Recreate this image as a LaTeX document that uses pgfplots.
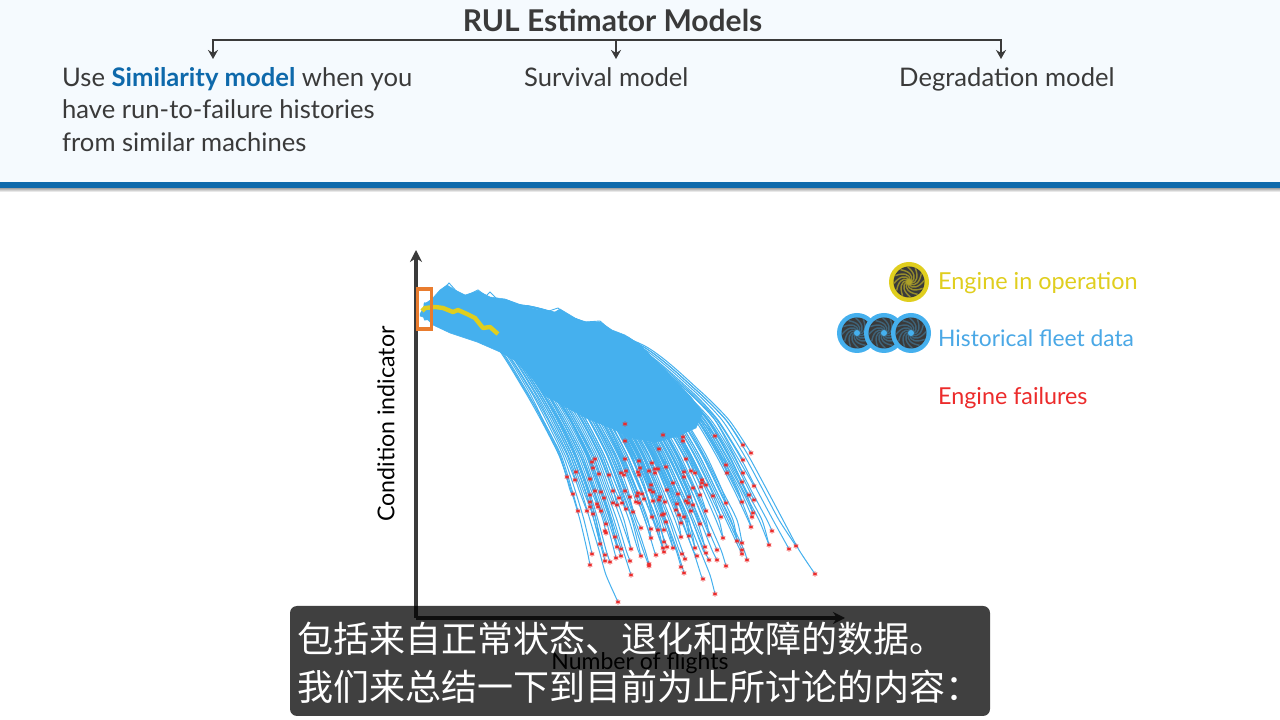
\documentclass[border=0pt]{standalone}
\usepackage{fontspec}
\usepackage{pgfplots}
\pgfplotsset{compat=1.18}
\usetikzlibrary{arrows.meta,calc}
\setmainfont{Lato}
\newfontfamily\cjk{Noto Sans CJK SC}
\definecolor{fleet}{HTML}{45B0EE}
\definecolor{legblue}{HTML}{4AA8E6}
\definecolor{oper}{HTML}{E0CE1E}
\definecolor{fail}{HTML}{EC2B2B}
\definecolor{dk}{HTML}{3A3A3A}
\definecolor{band}{HTML}{F5FAFE}
\definecolor{bar}{HTML}{0E69AB}
\definecolor{orng}{HTML}{E97C2E}
\newcommand\C[1]{\addplot[fleet,line width=1pt,smooth,tension=0.4] coordinates {#1};}
\newcommand\fs[1]{\fontsize{#1}{#1}\selectfont}
\newcommand\turbine[5]{% x,y,ring colour,gap colour,hub colour
  \fill[#3] (#1pt,#2pt) circle (20pt);
  \fill[dk] (#1pt,#2pt) circle (15.5pt);
  \foreach \a in {0,30,...,330}{
    \draw[#4,line width=1.4pt] ($(#1pt,#2pt)+(\a:2.5pt)$) .. controls ($(#1pt,#2pt)+(\a+25:8pt)$) and ($(#1pt,#2pt)+(\a+60:11pt)$) .. ($(#1pt,#2pt)+(\a+95:15pt)$);
  }
  \fill[#5] (#1pt,#2pt) circle (3pt);
}
\begin{document}
\begin{tikzpicture}[x=1pt,y=1pt]
\fill[white] (0,0) rectangle (1280,720);
\fill[band] (0,538) rectangle (1280,720);
\shade[top color=black!45,bottom color=white] (0,528) rectangle (1280,533);
\fill[bar] (0,532) rectangle (1280,538);
% header
\node[anchor=center,text=dk,inner sep=0pt,font=\bfseries\fs{30}] at (612.5,699.5) {RUL Estimator Models};
\draw[dk,line width=2.8pt] (211.6,680) -- (1002.4,680);
\foreach \x in {213,616,1001}{
  \draw[dk,line width=2.4pt,-{Stealth[length=9pt,width=10pt]}] (\x,680) -- (\x,661);
}
\node[anchor=base west,inner sep=0pt,text=dk,font=\fs{25.6}] at (62,633) {Use {\bfseries\color{bar}Similarity model} when you};
\node[anchor=base west,inner sep=0pt,text=dk,font=\fs{25.6}] at (62,601) {have run-to-failure histories};
\node[anchor=base west,inner sep=0pt,text=dk,font=\fs{25.6}] at (62,568) {from similar machines};
\node[anchor=base west,inner sep=0pt,text=dk,font=\fs{25.6}] at (524,633) {Survival model};
\node[anchor=base west,inner sep=0pt,text=dk,font=\fs{25.6}] at (899,633) {Degradation model};
% legend
\turbine{909}{438}{oper}{oper!55!dk}{oper!70!dk}
\turbine{857}{387}{fleet}{fleet!35!dk}{fleet}
\turbine{884}{387}{fleet}{fleet!35!dk}{fleet}
\turbine{911}{387}{fleet}{fleet!35!dk}{fleet}
\node[anchor=base west,inner sep=0pt,text=oper,font=\fs{23.4}] at (938,430) {Engine in operation};
\node[anchor=base west,inner sep=0pt,text=legblue,font=\fs{22.8}] at (938,373) {Historical fleet data};
\node[anchor=base west,inner sep=0pt,text=fail,font=\fs{23.3}] at (938,315) {Engine failures};
\begin{axis}[
  at={(416pt,102pt)},anchor=south west,
  scale only axis,width=429pt,height=368pt,
  xmin=0,xmax=429,ymin=0,ymax=368,
  axis lines=left,clip=false,
  xtick=\empty,ytick=\empty,
  axis line style={draw=dk,line width=3.4pt,-{Stealth[length=12pt,width=12pt]}},
  xlabel={Number of flights},ylabel={Condition indicator},
  xlabel style={at={(axis description cs:0.522,-0.122)},anchor=center,font=\fs{23},text=black},
  ylabel style={at={(axis description cs:-0.07,0.527)},anchor=center,font=\fs{23.2},text=black},
]
% dense core of the fleet histories
\addplot[fill=fleet,draw=fleet,line width=0.5pt] coordinates {
(4,304)(10,315)(16,319)(24,328)(31,333)(39,328)(49,323)(62,327)(74,321)(89,319)(104,313)(119,308)(139,306)(144,309)(159,300)(169,296)(184,296)(196,288)(209,283)(224,273)(240,257)(258,238)(275,221)(287,205)
(280,190)(262,182)(240,176)(215,180)(195,190)(170,200)(148,212)(130,222)(112,245)(98,258)(84,266)(61,276)(34,285)(17,293)(10,300)(4,302)} --cycle;
% outer histories along the top edge
\addplot[fleet,line width=0.9pt] coordinates {(10,310)(22,322)(33,335)(42,325)(50,322)(62,328)(70,322)(74,326)(82,318)(91,318)(105,313)(120,310)(130,306)(142,310)(150,303)(160,299)(170,296)(184,297)(192,290)(201,281)(212,281)(224,273)};
% individual histories
\C{(8,300)(40,298)(81,273)(110,228)(126,198)(143,163)(155,128)(164,98)(171,68)(174,53)}
\C{(8,305)(41,299)(83,273)(112,228)(127,198)(145,163)(156,128)(162,107)}
\C{(8,303)(40,298)(79,273)(108,228)(125,198)(143,163)(151,141)}
\C{(8,309)(40,297)(80,273)(109,228)(127,198)(144,163)(154,128)(157,124)}
\C{(8,311)(45,299)(90,273)(120,228)(137,198)(154,163)(160,146)}
\C{(8,302)(45,299)(89,273)(120,228)(137,198)(154,163)(167,128)(174,111)}
\C{(8,307)(44,299)(87,273)(117,228)(133,198)(151,163)(163,128)(171,107)}
\C{(8,299)(42,298)(84,273)(114,228)(130,198)(147,163)(159,128)(168,98)(176,64)}
\C{(8,306)(44,299)(88,273)(118,228)(135,198)(152,163)(165,128)(174,98)(183,68)(190,43)(202,16)}
\C{(8,312)(46,299)(91,273)(122,228)(139,198)(156,163)(169,128)(178,98)(186,68)(189,57)}
\C{(8,301)(47,299)(94,273)(125,228)(143,198)(160,163)(173,128)(182,98)(190,68)(194,56)}
\C{(8,310)(46,299)(92,273)(124,228)(141,198)(158,163)(171,128)(180,98)(187,68)(189,63)}
\C{(8,304)(46,299)(91,273)(122,228)(139,198)(156,163)(169,128)(178,98)(184,74)}
\C{(8,308)(49,300)(97,273)(129,228)(146,198)(164,163)(177,128)(187,98)(190,85)}
\C{(8,313)(49,300)(98,273)(130,228)(148,198)(166,163)(178,128)(190,94)}
\C{(8,298)(46,299)(91,273)(122,228)(139,198)(156,163)(169,128)(177,104)}
\C{(8,306)(49,300)(97,273)(129,228)(146,198)(164,163)(177,128)(185,107)}
\C{(8,303)(51,300)(102,273)(135,228)(154,198)(171,163)(184,128)(194,98)(199,81)}
\C{(8,309)(51,300)(101,273)(134,228)(152,198)(170,163)(182,128)(192,98)(201,71)}
\C{(8,314)(52,300)(104,273)(137,228)(155,198)(173,163)(186,128)(196,98)(205,69)}
\C{(8,300)(51,300)(102,273)(135,228)(154,198)(171,163)(184,128)(194,98)(203,68)(205,62)}
\C{(8,307)(50,300)(100,273)(132,228)(150,198)(168,163)(180,128)(190,98)(198,68)(200,60)}
\C{(8,311)(55,301)(110,273)(144,228)(163,198)(181,163)(194,128)(205,98)(215,69)}
\C{(8,302)(53,300)(107,273)(141,228)(159,198)(177,163)(190,128)(201,98)(210,68)(214,57)}
\C{(8,305)(52,300)(105,273)(139,228)(157,198)(175,163)(188,128)(198,98)(207,68)(215,43)}
\C{(8,315)(57,301)(115,273)(151,228)(170,198)(188,163)(202,128)(213,98)(222,68)(225,62)}
\C{(8,301)(60,302)(120,273)(156,228)(176,198)(194,163)(208,128)(219,98)(229,68)(233,54)}
\C{(8,308)(59,302)(118,273)(154,228)(174,198)(192,163)(206,128)(217,98)(227,68)(233,52)}
\C{(8,304)(63,302)(127,273)(164,228)(185,198)(204,163)(218,128)(229,98)(238,68)(240,63)}
\C{(8,312)(63,302)(127,273)(164,228)(186,198)(203,163)(218,128)(229,98)(235,80)}
\C{(8,299)(66,303)(132,273)(171,228)(192,198)(211,163)(226,128)(237,98)(247,70)}
\C{(8,306)(67,303)(135,273)(175,228)(196,198)(215,163)(229,128)(241,98)(251,71)}
\C{(8,310)(66,303)(133,273)(171,228)(193,198)(211,163)(225,128)(237,98)(248,66)}
\C{(8,303)(70,304)(140,273)(180,228)(202,198)(221,163)(235,128)(247,98)(257,70)}
\C{(8,313)(72,304)(144,273)(185,228)(207,198)(226,163)(241,128)(253,98)(263,68)(266,64)}
\C{(8,307)(70,304)(141,273)(182,228)(203,198)(222,163)(237,128)(249,98)(260,68)(265,51)}
\C{(8,301)(71,304)(142,273)(182,228)(204,198)(223,163)(238,128)(250,98)(261,68)(268,45)}
\C{(8,309)(72,304)(145,273)(187,228)(209,198)(228,163)(243,128)(255,98)(266,68)(269,59)}
\C{(8,305)(77,305)(155,273)(198,228)(222,198)(241,163)(257,128)(269,98)(273,82)}
\C{(8,311)(74,305)(148,273)(190,228)(212,198)(232,163)(247,128)(259,98)(265,81)}
\C{(8,302)(77,305)(155,273)(198,228)(222,198)(241,163)(257,128)(270,98)(279,70)}
\C{(8,314)(76,305)(153,273)(195,228)(218,198)(237,163)(253,128)(266,98)(277,68)(281,62)}
\C{(8,300)(80,306)(161,273)(205,228)(229,198)(249,163)(265,128)(278,98)(289,71)}
\C{(8,308)(80,306)(160,273)(204,228)(227,198)(247,163)(263,128)(276,98)(287,68)(290,65)}
\C{(8,304)(76,305)(153,273)(196,228)(218,198)(238,163)(253,128)(265,98)(277,68)(285,43)(287,39)}
\C{(8,310)(78,305)(157,273)(200,228)(223,198)(243,163)(259,128)(272,98)(284,68)(294,43)(299,24)}
\C{(8,306)(80,306)(160,273)(204,228)(227,198)(247,163)(263,128)(276,98)(288,68)(293,58)}
\C{(8,303)(82,306)(165,273)(210,228)(235,198)(255,163)(271,128)(284,98)(296,68)(301,58)}
\C{(8,312)(84,307)(168,273)(214,228)(238,198)(258,163)(275,128)(288,98)(301,68)}
\C{(8,299)(84,307)(168,273)(214,228)(238,198)(258,163)(275,128)(287,98)(293,83)}
\C{(8,307)(90,308)(181,273)(229,228)(255,198)(275,163)(292,128)(305,101)}
\C{(8,302)(88,308)(177,273)(224,228)(249,198)(270,163)(287,128)(300,98)(307,80)}
\C{(8,315)(85,307)(171,273)(217,228)(242,198)(262,163)(279,128)(292,98)(305,68)(310,52)}
\C{(8,305)(93,308)(187,273)(236,228)(262,198)(283,163)(300,128)(315,98)(321,77)}
\C{(8,309)(95,309)(191,273)(241,228)(268,198)(288,163)(306,128)(321,98)(326,75)}
\C{(8,301)(92,308)(185,273)(234,228)(260,198)(281,163)(298,128)(312,98)(326,68)}
\C{(8,311)(92,308)(184,273)(232,228)(258,198)(279,163)(296,128)(310,98)(324,68)(326,64)}
\C{(8,304)(93,308)(187,273)(236,228)(262,198)(283,163)(300,128)(314,98)(328,68)(331,58)}
\C{(8,308)(100,310)(200,273)(251,228)(279,198)(300,163)(318,128)(332,98)(335,91)}
\C{(8,313)(102,310)(205,273)(258,228)(286,198)(307,163)(326,128)(337,105)}
\C{(8,300)(102,310)(204,273)(256,228)(284,198)(305,163)(324,128)(336,101)}
\C{(8,306)(105,311)(210,273)(263,228)(292,198)(313,163)(329,128)(333,123)}
\C{(8,310)(105,311)(211,273)(265,228)(293,198)(315,163)(333,128)(338,118)}
\C{(8,303)(107,311)(215,273)(270,228)(299,198)(320,163)(338,132)}
\C{(8,307)(105,311)(210,273)(263,228)(292,198)(313,163)(326,136)}
\C{(8,312)(107,311)(215,273)(270,228)(299,198)(327,145)}
\C{(8,302)(109,312)(218,273)(274,228)(302,198)(327,158)}
\C{(8,305)(112,312)(224,273)(280,228)(310,198)(327,173)}
\C{(8,309)(113,312)(227,273)(283,228)(313,198)(335,165)}
\C{(8,301)(106,311)(213,273)(266,228)(295,198)(317,163)(335,128)(351,98)(356,87)}
\C{(8,314)(103,311)(207,273)(260,228)(288,198)(309,163)(327,128)(343,98)(353,73)}
\C{(8,304)(110,312)(221,273)(277,228)(306,198)(328,163)(347,128)(363,98)(380,72)}
\C{(8,308)(108,312)(217,273)(272,228)(301,198)(323,163)(341,128)(357,98)(373,69)}
\C{(8,311)(112,312)(224,273)(280,228)(310,198)(332,163)(351,128)(367,98)(383,68)(399,44)}
\C{(8,300)(95,309)(190,273)(239,228)(266,198)(287,163)(304,128)(310,115)}
\C{(8,306)(101,310)(203,273)(254,228)(282,198)(304,163)(311,145)}
\C{(8,303)(102,310)(205,273)(258,228)(286,198)(307,163)(310,153)}
\C{(8,313)(102,310)(205,273)(258,228)(285,198)(299,182)}
\C{(8,307)(82,306)(164,273)(209,228)(233,198)(253,163)(269,128)(282,98)(284,94)}
\C{(8,302)(86,307)(172,273)(219,228)(244,198)(264,163)(280,128)(290,107)}
\C{(8,310)(90,308)(181,273)(229,228)(255,198)(275,163)(292,128)(297,122)}
\C{(8,305)(84,306)(167,273)(212,228)(236,198)(256,163)(273,128)(277,113)}
\C{(8,309)(76,305)(153,273)(195,228)(218,198)(237,163)(253,128)(263,103)}
\C{(8,301)(78,305)(157,273)(200,228)(223,198)(243,163)(259,128)(268,101)}
\C{(8,312)(82,306)(163,273)(207,228)(231,198)(251,163)(268,128)(275,107)}
\C{(8,304)(70,304)(141,273)(182,228)(203,198)(222,163)(237,128)(248,98)(250,96)}
\C{(8,308)(69,304)(137,273)(178,228)(200,198)(219,163)(233,128)(245,98)(248,88)}
\C{(8,299)(67,303)(135,273)(175,228)(196,198)(215,163)(229,128)(238,98)(242,88)}
\C{(8,306)(60,302)(121,273)(158,228)(178,198)(196,163)(210,128)(221,98)(225,90)}
\C{(8,311)(64,302)(128,273)(166,228)(187,198)(205,163)(220,128)(231,98)(235,89)}
\C{(8,303)(60,302)(121,273)(158,228)(178,198)(196,163)(210,128)(217,106)}
\C{(8,307)(57,301)(115,273)(151,228)(170,198)(188,163)(202,128)(210,109)}
\C{(8,313)(54,300)(108,273)(142,228)(161,198)(179,163)(192,128)(197,115)}
\C{(8,300)(47,299)(95,273)(127,228)(144,198)(162,163)(175,128)(182,111)}
\C{(8,305)(49,300)(98,273)(130,228)(148,198)(166,163)(179,127)}
\C{(8,302)(72,304)(144,273)(185,228)(207,198)(209,194)}
\C{(8,309)(84,307)(168,273)(214,228)(238,198)(247,183)}
\C{(8,305)(91,308)(182,273)(231,228)(257,198)(267,181)}
\C{(8,311)(90,308)(181,273)(229,228)(255,198)(267,177)}
\C{(8,300)(67,303)(134,273)(173,228)(194,198)(209,177)}
\C{(8,307)(80,306)(160,273)(204,228)(227,198)(243,169)}
\C{(8,313)(65,303)(130,273)(168,228)(189,198)(209,159)}
\C{(8,303)(88,307)(175,273)(222,228)(247,198)(270,159)}
\C{(8,308)(52,300)(105,273)(139,228)(157,198)(179,159)}
\C{(8,301)(52,300)(104,273)(137,228)(155,198)(176,156)}
\C{(8,310)(52,300)(104,273)(137,228)(155,198)(172,163)(177,150)}
\C{(8,306)(70,304)(140,273)(180,228)(201,198)(218,163)(223,157)}
\C{(8,304)(75,305)(150,273)(192,228)(214,198)(233,163)(236,155)}
\C{(8,312)(80,306)(160,273)(204,228)(227,198)(247,163)(250,151)}
\C{(8,299)(53,300)(107,273)(141,228)(159,198)(177,163)(183,144)}
\C{(8,305)(57,301)(114,273)(149,228)(168,198)(186,163)(193,143)}
\C{(8,311)(61,302)(122,273)(159,228)(179,198)(198,163)(205,145)}
\C{(8,302)(63,302)(127,273)(164,228)(185,198)(204,163)(210,147)}
\C{(8,308)(62,302)(124,273)(161,228)(181,198)(200,163)(208,143)}
\C{(8,314)(68,303)(137,273)(176,228)(198,198)(217,163)(224,150)}
\C{(8,303)(67,303)(135,273)(175,228)(196,198)(215,163)(222,146)}
\C{(8,307)(68,303)(136,273)(176,228)(197,198)(216,163)(223,143)}
\C{(8,300)(72,304)(144,273)(185,228)(207,198)(226,163)(233,147)}
\C{(8,310)(74,305)(148,273)(190,228)(212,198)(232,163)(239,149)}
\C{(8,305)(76,305)(151,273)(193,228)(216,198)(236,163)(242,149)}
\C{(8,312)(74,304)(147,273)(188,228)(211,198)(230,163)(239,145)}
\C{(8,301)(85,307)(170,273)(215,228)(240,198)(260,163)(268,146)}
\C{(8,306)(88,307)(175,273)(222,228)(247,198)(268,163)(275,147)}
\C{(8,309)(89,308)(178,273)(226,228)(251,198)(272,163)(279,145)}
\C{(8,303)(85,307)(171,273)(216,228)(241,198)(261,163)(268,141)}
\C{(8,313)(49,300)(97,273)(129,228)(146,198)(164,163)(174,139)}
\C{(8,307)(43,299)(85,273)(115,228)(132,198)(149,163)(159,138)}
\C{(8,302)(70,304)(141,273)(181,228)(203,198)(222,163)(235,133)}
\C{(8,310)(79,306)(158,273)(202,228)(225,198)(245,163)(257,135)}
\C{(8,304)(90,308)(180,273)(227,228)(253,198)(274,163)(286,138)}
\C{(8,311)(89,308)(178,273)(226,228)(251,198)(272,163)(286,135)}
\C{(8,300)(90,308)(181,273)(229,228)(255,198)(275,163)(290,133)}
\C{(8,308)(88,307)(177,273)(224,228)(249,198)(270,163)(285,131)}
\C{(8,305)(85,307)(171,273)(217,228)(242,198)(262,163)(277,130)}
\C{(8,313)(69,304)(138,273)(178,228)(200,198)(219,163)(234,128)}
\C{(8,301)(70,304)(140,273)(180,228)(201,198)(221,163)(237,126)}
\C{(8,307)(76,305)(151,273)(193,228)(216,198)(236,163)(251,128)}
\C{(8,303)(51,300)(102,273)(135,228)(154,198)(171,163)(185,126)}
\C{(8,309)(55,301)(111,273)(146,228)(165,198)(183,163)(197,127)}
\C{(8,299)(60,302)(120,273)(156,228)(176,198)(194,163)(209,127)}
\C{(8,312)(47,299)(94,273)(125,228)(143,198)(160,163)(174,123)}
\C{(8,306)(65,303)(130,273)(168,228)(189,198)(207,163)(222,125)}
\C{(8,304)(66,303)(131,273)(170,228)(190,198)(209,163)(226,124)}
\C{(8,310)(79,306)(158,273)(202,228)(225,198)(245,163)(262,124)}
\C{(8,302)(57,301)(114,273)(149,228)(168,198)(186,163)(199,128)(203,120)}
\C{(8,308)(60,302)(121,273)(158,228)(178,198)(196,163)(210,128)(214,121)}
\C{(8,314)(63,302)(127,273)(164,228)(185,198)(203,163)(218,128)(221,122)}
\C{(8,300)(66,303)(132,273)(171,228)(192,198)(211,163)(225,128)(228,119)}
\C{(8,305)(72,304)(145,273)(187,228)(209,198)(228,163)(243,128)(244,121)}
\C{(8,311)(70,304)(140,273)(180,228)(201,198)(221,163)(235,128)(237,117)}
\C{(8,303)(74,304)(147,273)(188,228)(211,198)(230,163)(245,128)(249,116)}
\C{(8,309)(82,306)(165,273)(210,228)(235,198)(255,163)(271,128)(273,121)}
\C{(8,301)(80,306)(161,273)(205,228)(229,198)(249,163)(265,128)(270,117)}
\C{(8,307)(100,310)(201,273)(253,228)(281,198)(302,163)(320,128)(326,116)}
\C{(8,312)(77,305)(154,273)(197,228)(220,198)(239,163)(255,128)(261,114)}
\C{(8,304)(76,305)(151,273)(193,228)(216,198)(236,163)(251,128)(260,108)}
\C{(8,306)(62,302)(125,273)(163,228)(183,198)(202,163)(216,128)(220,116)}
\C{(8,310)(71,304)(142,273)(183,228)(205,198)(224,163)(239,128)(248,104)}
\C{(8,303)(47,299)(94,273)(125,228)(142,198)(159,163)(172,128)(180,98)(184,74)}
\C{(8,309)(52,300)(104,273)(137,228)(155,198)(173,163)(185,128)(195,98)(201,71)}
\C{(8,301)(56,301)(113,273)(147,228)(166,198)(184,163)(197,128)(208,98)(215,69)}
\C{(8,306)(59,301)(118,273)(154,228)(173,198)(191,163)(205,128)(216,98)(225,62)}
\C{(8,312)(65,303)(130,273)(167,228)(189,198)(206,163)(221,128)(232,98)(235,80)}
\C{(8,304)(67,303)(135,273)(174,228)(195,198)(214,163)(229,128)(240,98)(247,70)}
\C{(8,308)(68,303)(137,273)(177,228)(199,198)(218,163)(233,128)(243,98)(248,76)}
\C{(8,300)(71,304)(143,273)(183,228)(205,198)(224,163)(238,128)(250,98)(257,70)}
\C{(8,310)(75,305)(151,273)(193,228)(215,198)(235,163)(250,128)(262,98)(265,81)}
\C{(8,305)(76,305)(153,273)(196,228)(218,198)(238,163)(254,128)(265,95)}
\C{(8,313)(79,306)(158,273)(201,228)(225,198)(244,163)(260,128)(271,98)(273,82)}
\C{(8,302)(79,306)(158,273)(201,228)(225,198)(244,163)(260,128)(273,98)(279,70)}
\C{(8,307)(84,306)(167,273)(212,228)(236,198)(256,163)(272,128)(284,94)}
\C{(8,311)(82,306)(164,273)(208,228)(232,198)(252,163)(268,128)(281,98)(289,71)}
\C{(8,303)(85,307)(171,273)(217,228)(241,198)(261,163)(278,128)(290,98)(293,83)}
\C{(8,309)(92,308)(184,273)(232,228)(258,198)(278,163)(295,128)(305,101)}
\C{(8,301)(90,308)(180,273)(227,228)(252,198)(273,163)(290,128)(303,98)(307,80)}
\C{(8,306)(95,309)(190,273)(239,228)(265,198)(286,163)(303,128)(317,98)(321,77)}
\C{(8,312)(72,304)(145,273)(186,228)(208,198)(227,163)(241,128)(248,104)}
\C{(8,304)(69,304)(138,273)(178,228)(199,198)(218,163)(230,128)(236,101)}
\C{(8,308)(62,302)(124,273)(161,228)(181,198)(199,163)(212,128)(217,106)}
\C{(8,300)(59,301)(118,273)(154,228)(173,198)(191,163)(204,128)(210,109)}
\C{(8,310)(78,305)(156,273)(198,228)(221,198)(240,163)(256,128)(263,103)}
\C{(8,305)(88,307)(175,273)(222,228)(247,198)(267,163)(283,128)(290,107)}
\C{(8,313)(97,309)(193,273)(242,228)(269,198)(290,163)(306,128)(310,115)}
\C{(8,302)(102,310)(204,273)(256,228)(284,198)(305,163)(322,128)(326,116)}
\C{(8,307)(104,310)(208,273)(261,228)(289,198)(310,163)(329,128)(337,105)}
\C{(8,311)(102,310)(203,273)(254,228)(282,198)(303,163)(321,128)(333,98)(335,91)}
\C{(8,303)(105,311)(210,273)(263,228)(291,198)(312,163)(330,128)(346,98)(353,73)}
\C{(8,309)(56,301)(112,273)(147,228)(166,198)(184,163)(197,128)(201,113)}
% engine in operation
\addplot[oper,line width=4.4pt,line join=round] coordinates {(6,307)(9,310)(19,311)(27,310)(37,306)(42,308)(51,304)(59,300)(67,290)(74,291)(82,284)};
% window
\addplot[orng,line width=3.6pt] coordinates {(1.5,289)(15.5,289)(15.5,329)(1.5,329)} --cycle;
% failures
\addplot[only marks,mark=asterisk,mark size=2.6pt,fail,mark options={line width=0.9pt}] table {
209 194
247 183
267 181
267 177
299 182
209 177
243 169
327 173
335 165
209 159
270 159
327 158
179 159
176 156
177 150
223 157
236 155
250 151
310 153
160 146
183 144
193 143
205 145
210 147
208 143
224 150
222 146
223 143
233 147
239 149
242 149
239 145
268 146
275 147
279 145
268 141
311 145
327 145
151 141
159 138
174 139
235 133
257 135
286 138
286 135
290 133
285 131
326 136
338 132
277 130
234 128
237 126
251 128
157 124
179 127
185 126
197 127
209 127
174 123
222 125
226 124
262 124
284 123
297 122
333 123
174 116
174 111
188 120
203 120
214 121
221 122
228 119
244 121
243 118
237 117
249 116
273 121
270 117
272 115
277 113
310 115
326 116
338 118
181 114
182 111
197 115
201 113
206 115
220 116
223 115
261 114
260 108
162 107
171 107
177 104
185 107
210 109
217 106
263 103
268 101
275 107
290 107
248 104
246 103
337 105
336 101
305 101
236 101
250 96
265 95
284 94
190 94
225 90
235 89
242 88
248 88
335 91
189 87
190 85
356 87
199 81
235 80
265 81
273 82
293 83
307 80
184 74
248 76
321 77
326 75
353 73
380 72
373 69
201 71
205 69
215 69
247 70
251 71
257 70
279 70
289 71
301 68
326 68
248 66
266 64
290 65
326 64
176 64
189 63
205 62
200 60
225 62
240 63
281 62
189 57
194 56
214 57
269 59
293 58
301 58
331 58
174 53
233 54
233 52
310 52
265 51
215 43
268 45
287 39
399 44
299 24
202 16
};
\end{axis}
% caption box
\fill[black,fill opacity=0.75,rounded corners=7pt] (290,4) rectangle (990,114);
\node[anchor=base west,text=white,inner sep=0pt,font=\cjk\fs{36}] at (297,67) {包括来自正常状态、退化和故障的数据。};
\node[anchor=base west,text=white,inner sep=0pt,font=\cjk\fs{36}] at (297,19) {我们来总结一下到目前为止所讨论的内容：};
\end{tikzpicture}
\end{document}
